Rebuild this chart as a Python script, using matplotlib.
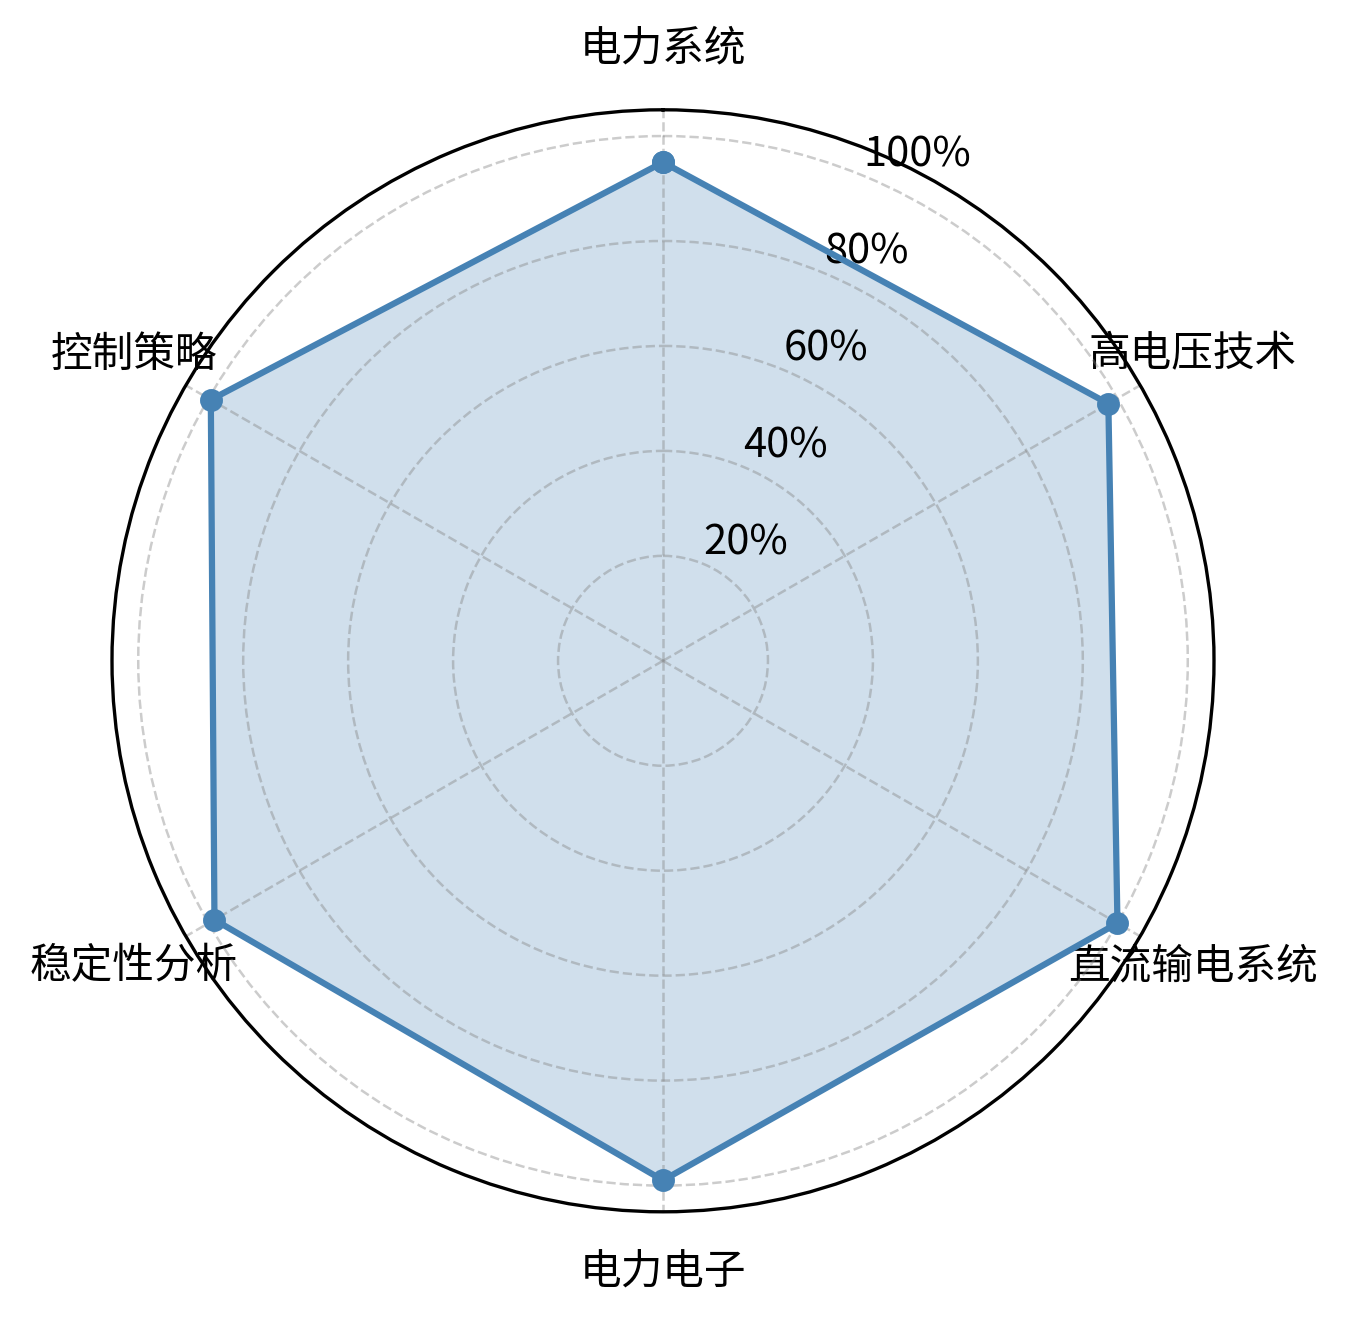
import numpy as np
import matplotlib
matplotlib.use("Agg")
import matplotlib.pyplot as plt

plt.rcParams['font.family'] = ['Noto Sans CJK SC', 'DejaVu Sans']

categories = ['电力系统', '高电压技术', '直流输电系统', '电力电子', '稳定性分析', '控制策略']
values = [95, 98, 100, 99, 98.7, 99.5]
rticks = [20, 40, 60, 80, 100]
rtick_labels = ['20%', '40%', '60%', '80%', '100%']

n = len(categories)
angles = np.linspace(0, 2 * np.pi, n, endpoint=False).tolist()
vals = values + values[:1]
angs = angles + angles[:1]

fig = plt.figure(figsize=(1346 / 300, 1324 / 300), dpi=300)
cx, cy = 663 / 1346, 1 - 660.8 / 1324
rw, rh = 551 / 1346, 551 / 1324
ax = fig.add_axes([cx - rw, cy - rh, 2 * rw, 2 * rh], projection='polar')
ax.set_theta_offset(np.pi / 2)
ax.set_theta_direction(-1)

ax.plot(angs, vals, color='steelblue', linewidth=1.5, marker='o', markersize=4.5)
ax.fill(angs, vals, color='steelblue', alpha=0.25)

ax.set_xticks(angles)
ax.set_xticklabels(categories, fontsize=10)
ax.set_ylim(0, 105)
ax.set_yticks(rticks)
ax.set_yticklabels(rtick_labels, fontsize=10)
ax.grid(True, linestyle='--', color='gray', alpha=0.4, linewidth=0.6)
ax.tick_params(axis='x', pad=4)

fig.savefig('out.png', dpi=300)
